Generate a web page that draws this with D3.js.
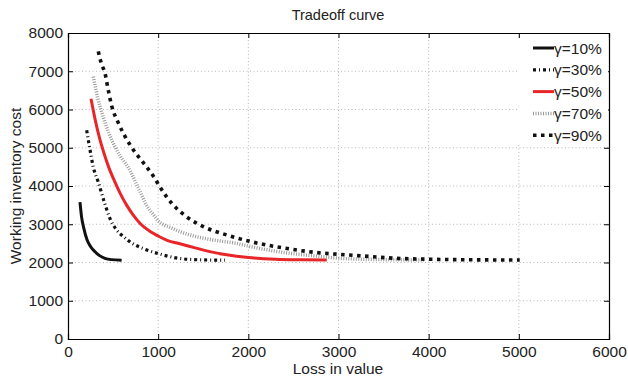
<!DOCTYPE html>
<html>
<head>
<meta charset="utf-8">
<script src="https://cdn.jsdelivr.net/npm/d3@7"></script>
<style>
  body { margin: 0; background: #fff; }
  svg { font-family: "Liberation Sans", Arial, sans-serif; }
</style>
</head>
<body>
<svg width="628" height="376"></svg>
<script>
// data: [loss, cost]
const g10 = [[133,3580],[150,3200],[175,2900],[210,2600],[250,2420],[300,2280],[350,2180],[410,2110],[480,2075],[595,2060]];
const g30 = [[207,5460],[240,5000],[280,4500],[336,4100],[400,3600],[466,3150],[540,2850],[613,2680],[700,2520],[850,2350],[1020,2220],[1200,2120],[1400,2075],[1740,2060]];
const g50 = [[255,6280],[300,5750],[350,5250],[400,4850],[450,4500],[521,4100],[580,3800],[650,3500],[720,3250],[800,3020],[900,2830],[1010,2680],[1100,2580],[1240,2490],[1400,2390],[1560,2290],[1760,2200],[2000,2130],[2300,2085],[2600,2070],[2870,2065]];
const g70 = [[281,6860],[330,6300],[392,5800],[450,5400],[521,5030],[580,4780],[650,4550],[700,4350],[750,4100],[800,3850],[870,3500],[940,3270],[1010,3070],[1130,2920],[1240,2810],[1400,2690],[1610,2590],[1870,2500],[2020,2420],[2400,2260],[2700,2180],[3020,2110],[3400,2080],[3950,2065]];
const g90 = [[336,7520],[370,7200],[410,6950],[447,6500],[484,6100],[558,5650],[632,5300],[724,4950],[835,4610],[946,4260],[1040,3900],[1150,3550],[1300,3220],[1500,2940],[1760,2720],[2020,2550],[2390,2380],[2760,2260],[3090,2200],[3270,2170],[3640,2110],[4010,2085],[4500,2070],[5010,2065]];

const seriesNames = ['γ=10%', 'γ=30%', 'γ=50%', 'γ=70%', 'γ=90%'];
const xTicks = [0, 1000, 2000, 3000, 4000, 5000, 6000];
const yTicks = [0, 1000, 2000, 3000, 4000, 5000, 6000, 7000, 8000];

const styles = [
  {color: '#111', width: 3, dash: null},
  {color: '#111', width: 3.2, dash: '3,3,1,3'},
  {color: '#e8262a', width: 3, dash: null},
  {color: '#9a9a9a', width: 3.5, dash: '1,1.5'},
  {color: '#111', width: 3.6, dash: '3.5,4.5'}
];

const svg = d3.select('svg');
const margin = {top: 33, right: 19, bottom: 37, left: 68};
const width = 628 - margin.left - margin.right;
const height = 376 - margin.top - margin.bottom;

const x = d3.scaleLinear().domain([0, 6000]).range([0, width]);
const y = d3.scaleLinear().domain([0, 8000]).range([height, 0]);

const graph = svg.append('g')
  .attr('transform', `translate(${margin.left},${margin.top})`);

// grid
graph.append('g').selectAll('line')
  .data(xTicks.slice(1, -1))
  .enter().append('line')
  .attr('x1', d => x(d)).attr('x2', d => x(d))
  .attr('y1', 0).attr('y2', height)
  .attr('stroke', '#b8b8b8').attr('stroke-dasharray', '1,2.5');
graph.append('g').selectAll('line')
  .data(yTicks.slice(1, -1))
  .enter().append('line')
  .attr('y1', d => y(d)).attr('y2', d => y(d))
  .attr('x1', 0).attr('x2', width)
  .attr('stroke', '#b8b8b8').attr('stroke-dasharray', '1,2.5');

// axes with inward ticks (matlab look)
const fmt = d3.format('d');
graph.append('g').attr('transform', `translate(0,${height})`)
  .call(d3.axisBottom(x).tickValues(xTicks).tickSize(-5).tickPadding(7).tickFormat(fmt));
graph.append('g')
  .call(d3.axisLeft(y).tickValues(yTicks).tickSize(-5).tickPadding(5).tickFormat(fmt));
graph.append('g')
  .call(d3.axisTop(x).tickValues(xTicks).tickSize(-5).tickFormat(''));
graph.append('g').attr('transform', `translate(${width},0)`)
  .call(d3.axisRight(y).tickValues(yTicks).tickSize(-5).tickFormat(''));

graph.selectAll('.domain').attr('stroke', '#000').attr('stroke-width', 1.2);
graph.selectAll('.tick line').attr('stroke', '#000');
graph.selectAll('.tick text').attr('font-size', 15.5).attr('fill', '#222')
  .attr('font-family', '"Liberation Sans", Arial, sans-serif');

// curves
const line = d3.line()
  .x(d => x(d[0]))
  .y(d => y(d[1]))
  .curve(d3.curveMonotoneX);

[g10, g30, g50, g70, g90].forEach((s, i) => {
  graph.append('path')
    .datum(s)
    .attr('d', line)
    .attr('fill', 'none')
    .attr('stroke', styles[i].color)
    .attr('stroke-width', styles[i].width)
    .attr('stroke-dasharray', styles[i].dash);
});

// legend
const legend = svg.append('g');
legend.append('rect')
  .attr('x', 518).attr('y', 38).attr('width', 90).attr('height', 107)
  .attr('fill', '#fff');
seriesNames.forEach((name, i) => {
  const ly = 48 + i * 21.8;
  legend.append('line')
    .attr('x1', 533).attr('x2', 554)
    .attr('y1', ly).attr('y2', ly)
    .attr('stroke', styles[i].color)
    .attr('stroke-width', styles[i].width)
    .attr('stroke-dasharray', styles[i].dash);
  legend.append('text')
    .attr('x', 554).attr('y', ly + 5.5)
    .attr('font-size', 15.5).attr('fill', '#222')
    .text(name);
});

// titles
svg.append('text')
  .attr('x', 338).attr('y', 20)
  .attr('text-anchor', 'middle')
  .attr('font-size', 14.5).attr('fill', '#222')
  .text('Tradeoff curve');

svg.append('text')
  .attr('x', 338).attr('y', 374)
  .attr('text-anchor', 'middle')
  .attr('font-size', 15.5).attr('fill', '#222')
  .text('Loss in value');

svg.append('text')
  .attr('transform', 'translate(21,186) rotate(-90)')
  .attr('text-anchor', 'middle')
  .attr('font-size', 15.5).attr('fill', '#222')
  .text('Working inventory cost');
</script>
</body>
</html>
